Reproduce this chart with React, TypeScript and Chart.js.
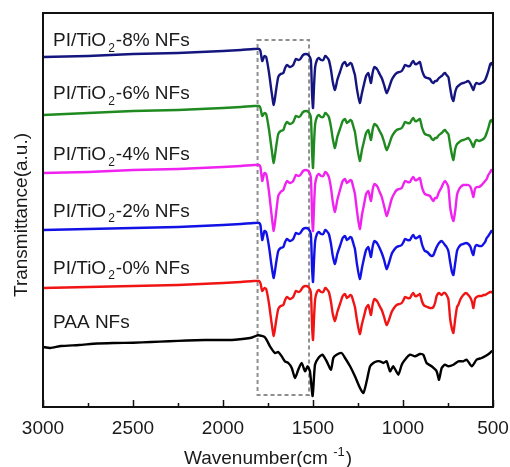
import { useEffect, useRef } from "react";
import { Chart, registerables } from "chart.js";

Chart.register(...registerables);

// Wavenumber grid (cm-1) for PI/TiO2 spectra
const wavenumbersPI = [
  3000, 2750, 2500, 2250, 2000, 1900, 1830, 1800, 1792, 1782,
  1770, 1760, 1745, 1730, 1718, 1705, 1693, 1680, 1665, 1655,
  1645, 1628, 1610, 1595, 1580, 1570, 1555, 1540, 1525, 1512,
  1505, 1500, 1494, 1488, 1478, 1468, 1455, 1443, 1432, 1424,
  1412, 1400, 1390, 1378, 1365, 1350, 1335, 1322, 1312, 1304,
  1292, 1285, 1275, 1267, 1255, 1240, 1228, 1215, 1205, 1193,
  1185, 1178, 1168, 1159, 1150, 1141, 1130, 1118, 1105, 1091,
  1078, 1063, 1050, 1035, 1020, 1007, 997, 989, 975, 961,
  952, 943, 933, 924, 915, 906, 895, 885, 878, 865,
  850, 840, 831, 822, 813, 800, 785, 775, 767, 758,
  748, 738, 728, 720, 710, 700, 693, 680, 665, 650,
  637, 625, 615, 609, 600, 591, 577, 563, 553, 544,
  535, 526, 515, 508, 500,
];

// Transmittance (a.u., stacked)
const pi8 = [
  350, 351, 353, 354, 356, 357, 358, 358, 356, 346,
  351, 350, 335, 315, 302, 317, 330, 333, 334, 339,
  342, 340, 342, 348, 347, 348, 352, 353, 352, 347,
  312, 299, 322, 340, 347, 349, 347, 347, 351, 350,
  347, 337, 325, 317, 327, 335, 343, 345, 341, 342,
  344, 343, 337, 332, 317, 304, 314, 324, 331, 334,
  329, 324, 335, 340, 339, 337, 333, 329, 322, 314,
  319, 327, 331, 334, 335, 336, 339, 342, 341, 341,
  344, 346, 343, 343, 344, 345, 337, 332, 330, 329,
  328, 325, 324, 326, 326, 329, 331, 333, 334, 332,
  330, 319, 309, 306, 315, 320, 321, 323, 324, 325,
  326, 323, 319, 317, 322, 324, 323, 324, 325, 327,
  331, 336, 343, 344, 341,
];

const pi6 = [
  292, 294, 296, 297, 299, 300, 301, 301, 299, 291,
  294, 293, 278, 258, 244, 260, 273, 276, 277, 282,
  285, 283, 285, 291, 290, 291, 295, 296, 295, 290,
  255, 239, 265, 283, 290, 292, 290, 290, 294, 293,
  290, 280, 268, 259, 270, 278, 286, 288, 284, 285,
  287, 286, 280, 275, 260, 246, 257, 267, 274, 277,
  272, 267, 278, 283, 282, 280, 276, 272, 265, 257,
  262, 270, 274, 277, 278, 279, 282, 285, 284, 284,
  287, 289, 286, 286, 287, 288, 280, 275, 273, 272,
  271, 268, 267, 269, 269, 272, 274, 276, 277, 275,
  273, 262, 252, 247, 258, 263, 264, 266, 267, 268,
  269, 266, 262, 260, 265, 267, 266, 267, 268, 270,
  274, 279, 286, 287, 284,
];

const pi4 = [
  234, 235, 237, 238, 240, 241, 242, 242, 240, 226,
  234, 233, 216, 192, 176, 194, 211, 215, 217, 222,
  226, 224, 226, 232, 231, 232, 236, 237, 236, 230,
  190, 176, 202, 223, 231, 233, 231, 231, 235, 234,
  230, 219, 205, 195, 207, 217, 226, 228, 224, 225,
  227, 226, 219, 213, 195, 178, 192, 204, 213, 216,
  211, 206, 218, 223, 222, 220, 215, 210, 201, 191,
  198, 208, 213, 217, 218, 219, 223, 226, 225, 225,
  228, 230, 227, 227, 228, 229, 220, 215, 213, 212,
  211, 208, 206, 209, 209, 215, 220, 224, 226, 224,
  220, 200, 190, 186, 196, 212, 216, 220, 222, 222,
  222, 220, 214, 210, 218, 220, 220, 222, 224, 226,
  228, 232, 235, 237, 236,
];

const pi2 = [
  177, 178, 179, 180, 182, 183, 184, 184, 182, 167,
  176, 175, 161, 141, 129, 144, 156, 159, 160, 165,
  168, 166, 168, 174, 173, 174, 178, 179, 178, 173,
  138, 125, 148, 166, 173, 175, 173, 173, 177, 176,
  173, 163, 151, 143, 153, 161, 169, 171, 167, 168,
  170, 169, 163, 158, 142, 128, 139, 150, 157, 160,
  155, 150, 161, 166, 165, 163, 159, 154, 147, 138,
  144, 153, 157, 160, 161, 162, 165, 168, 167, 167,
  170, 172, 169, 169, 170, 171, 163, 158, 156, 155,
  152, 151, 152, 156, 160, 164, 166, 164, 162, 160,
  156, 145, 135, 132, 144, 156, 159, 162, 163, 164,
  163, 160, 154, 152, 160, 162, 161, 161, 163, 165,
  169, 171, 174, 176, 175,
];

const pi0 = [
  119, 120, 121, 122, 124, 125, 126, 126, 124, 116,
  119, 118, 104, 84, 71, 86, 98, 101, 102, 107,
  110, 108, 110, 116, 115, 116, 120, 121, 120, 115,
  80, 67, 90, 108, 115, 117, 115, 115, 119, 118,
  115, 105, 93, 86, 95, 103, 111, 113, 109, 110,
  112, 111, 105, 100, 86, 73, 83, 92, 99, 102,
  97, 92, 103, 108, 107, 105, 101, 97, 90, 82,
  87, 95, 99, 102, 103, 104, 107, 110, 109, 109,
  112, 114, 111, 111, 112, 113, 106, 102, 101, 100,
  99, 99, 100, 104, 111, 114, 112, 114, 114, 112,
  108, 88, 78, 74, 88, 100, 102, 108, 112, 114,
  112, 109, 104, 99, 108, 110, 111, 111, 112, 112,
  113, 114, 115, 115, 114,
];

// PAA spectrum
const wavenumbersPAA = [
  3000, 2960, 2900, 2800, 2700, 2600, 2500, 2400, 2300, 2200,
  2100, 2000, 1950, 1850, 1804, 1767, 1739, 1711, 1693, 1674,
  1656, 1637, 1618, 1600, 1582, 1563, 1544, 1530, 1517, 1502,
  1489, 1470, 1448, 1424, 1400, 1387, 1369, 1341, 1322, 1294,
  1267, 1239, 1220, 1202, 1183, 1165, 1146, 1128, 1109, 1091,
  1072, 1054, 1026, 1007, 989, 961, 933, 906, 887, 869,
  841, 813, 800, 785, 767, 748, 720, 693, 665, 646,
  618, 591, 563, 544, 517, 508, 500,
];
const paa = [
  60, 59, 61, 62, 63.5, 64, 64.3, 65, 65.7, 66.5,
  67, 67, 67, 69, 71.7, 69.7, 60.7, 54, 55, 50.7,
  45.7, 44, 39, 29, 37.3, 44, 35.7, 40.7, 35.7, 11,
  42.3, 49, 52.3, 45.7, 37.3, 49, 52.3, 54, 49, 40.7,
  30.7, 19, 14, 25.7, 40.7, 44, 45.7, 45.7, 44, 45.7,
  35.7, 40.7, 32.3, 42.3, 47.3, 52.3, 50.7, 53, 52.3, 44,
  40.7, 35.7, 27.3, 39, 42.3, 40.7, 42.3, 45.7, 45.7, 47.3,
  40.7, 47.3, 49, 50.7, 54, 55.7, 55,
];

const seriesColors = ["#15157f", "#1f8a1f", "#f022f0", "#1212e6", "#f01414", "#000000"];
const labelPrefix = ["PI/TiO", "PI/TiO", "PI/TiO", "PI/TiO", "PI/TiO", "PAA NFs"];
const labelSub = ["2", "2", "2", "2", "2", ""];
const labelSuffix = ["-8% NFs", "-6% NFs", "-4% NFs", "-2% NFs", "-0% NFs", ""];
const labelBaselines = [46, 99, 160, 216.5, 273.5, 327.5];

const xMajorTicks = [3000, 2500, 2000, 1500, 1000, 500];
const xMinorTicks = [2750, 2250, 1750, 1250, 750];
const highlightBand = [1808, 1522];
const highlightRange = [12, 367];

const FONT = "'Liberation Sans', Arial, sans-serif";

export default function App() {
  const ref = useRef<HTMLCanvasElement | null>(null);

  useEffect(() => {
    const canvas = ref.current;
    if (!canvas) return;

    const overlay = {
      id: "overlay",
      beforeDatasetsDraw(chart: any) {
        const { ctx, scales } = chart;
        const x = scales.x, y = scales.y;
        ctx.save();
        ctx.strokeStyle = "#8e8e8e";
        ctx.lineWidth = 2;
        ctx.setLineDash([4, 3]);
        const x1 = x.getPixelForValue(highlightBand[0]);
        const x2 = x.getPixelForValue(highlightBand[1]);
        const y1 = y.getPixelForValue(highlightRange[1]);
        const y2 = y.getPixelForValue(highlightRange[0]);
        ctx.strokeRect(x1, y1, x2 - x1, y2 - y1);
        ctx.restore();
      },
      afterDraw(chart: any) {
        const { ctx, chartArea, scales } = chart;
        const x = scales.x;
        ctx.save();
        // frame
        ctx.strokeStyle = "#111";
        ctx.lineWidth = 2;
        ctx.strokeRect(chartArea.left, chartArea.top, chartArea.right - chartArea.left, chartArea.bottom - chartArea.top);
        // inward ticks
        ctx.lineWidth = 1.5;
        for (const t of xMajorTicks) {
          const px = Math.round(x.getPixelForValue(t)) + 0.5;
          ctx.beginPath();
          ctx.moveTo(px, chartArea.bottom);
          ctx.lineTo(px, chartArea.bottom - 7);
          ctx.stroke();
        }
        for (const t of xMinorTicks) {
          const px = Math.round(x.getPixelForValue(t)) + 0.5;
          ctx.beginPath();
          ctx.moveTo(px, chartArea.bottom);
          ctx.lineTo(px, chartArea.bottom - 4);
          ctx.stroke();
        }
        // tick labels
        ctx.fillStyle = "#1a1a1a";
        ctx.font = `19px ${FONT}`;
        ctx.textAlign = "center";
        ctx.textBaseline = "alphabetic";
        for (const t of xMajorTicks) {
          ctx.fillText(String(t), x.getPixelForValue(t), 434);
        }
        // series labels
        ctx.textAlign = "left";
        for (let i = 0; i < labelPrefix.length; i++) {
          let cx = 53;
          const by = labelBaselines[i];
          ctx.font = `19px ${FONT}`;
          ctx.fillText(labelPrefix[i], cx, by);
          cx += ctx.measureText(labelPrefix[i]).width;
          if (labelSub[i]) {
            cx += 2;
            ctx.font = `12px ${FONT}`;
            ctx.fillText(labelSub[i], cx, by + 5.5);
            cx += ctx.measureText(labelSub[i]).width + 1;
          }
          if (labelSuffix[i]) {
            ctx.font = `19px ${FONT}`;
            ctx.fillText(labelSuffix[i], cx, by);
          }
        }
        // y title
        ctx.save();
        ctx.translate(27, 215);
        ctx.rotate(-Math.PI / 2);
        ctx.font = `19px ${FONT}`;
        ctx.textAlign = "center";
        ctx.fillText("Transmittance(a.u.)", 0, 0);
        ctx.restore();
        // x title
        ctx.textAlign = "left";
        ctx.font = `19px ${FONT}`;
        const main = "Wavenumber(cm ";
        const wMain = ctx.measureText(main).width;
        ctx.font = `13px ${FONT}`;
        const sup = "-1";
        const wSup = ctx.measureText(sup).width;
        ctx.font = `19px ${FONT}`;
        const wEnd = ctx.measureText(")").width;
        const total = wMain + wSup + 1 + wEnd;
        let sx = (chartArea.left + chartArea.right) / 2 - total / 2;
        const by = 464;
        ctx.fillText(main, sx, by);
        sx += wMain;
        ctx.font = `13px ${FONT}`;
        ctx.fillText(sup, sx, by - 8);
        sx += wSup + 1;
        ctx.font = `19px ${FONT}`;
        ctx.fillText(")", sx, by);
        ctx.restore();
      },
    };

    const mk = (xs: number[], ys: number[]) => xs.map((w, i) => ({ x: w, y: ys[i] }));
    const allSeries = [
      mk(wavenumbersPI, pi8),
      mk(wavenumbersPI, pi6),
      mk(wavenumbersPI, pi4),
      mk(wavenumbersPI, pi2),
      mk(wavenumbersPI, pi0),
      mk(wavenumbersPAA, paa),
    ];

    const chart = new Chart(canvas, {
      type: "line",
      data: {
        datasets: allSeries.map((d, i) => ({
          data: d,
          borderColor: seriesColors[i],
          borderWidth: 2.4,
          pointRadius: 0,
          tension: 0.2,
          fill: false,
        })),
      },
      options: {
        responsive: false,
        animation: false,
        layout: { padding: { left: 43, top: 13, right: 17, bottom: 0 } },
        plugins: { legend: { display: false }, tooltip: { enabled: false } },
        scales: {
          x: {
            type: "linear",
            reverse: true,
            min: 500,
            max: 3000,
            grid: { display: false, drawTicks: false },
            border: { display: false },
            ticks: { display: false, stepSize: 500 },
            afterFit: (s: any) => {
              s.height = 60;
            },
          },
          y: {
            type: "linear",
            display: false,
            min: 0,
            max: 394,
          },
        },
      },
      plugins: [overlay],
    });

    return () => chart.destroy();
  }, []);

  return (
    <div style={{ position: "absolute", left: 0, top: 0, width: 510, height: 467, background: "#fff" }}>
      <canvas ref={ref} width={510} height={467} />
    </div>
  );
}
